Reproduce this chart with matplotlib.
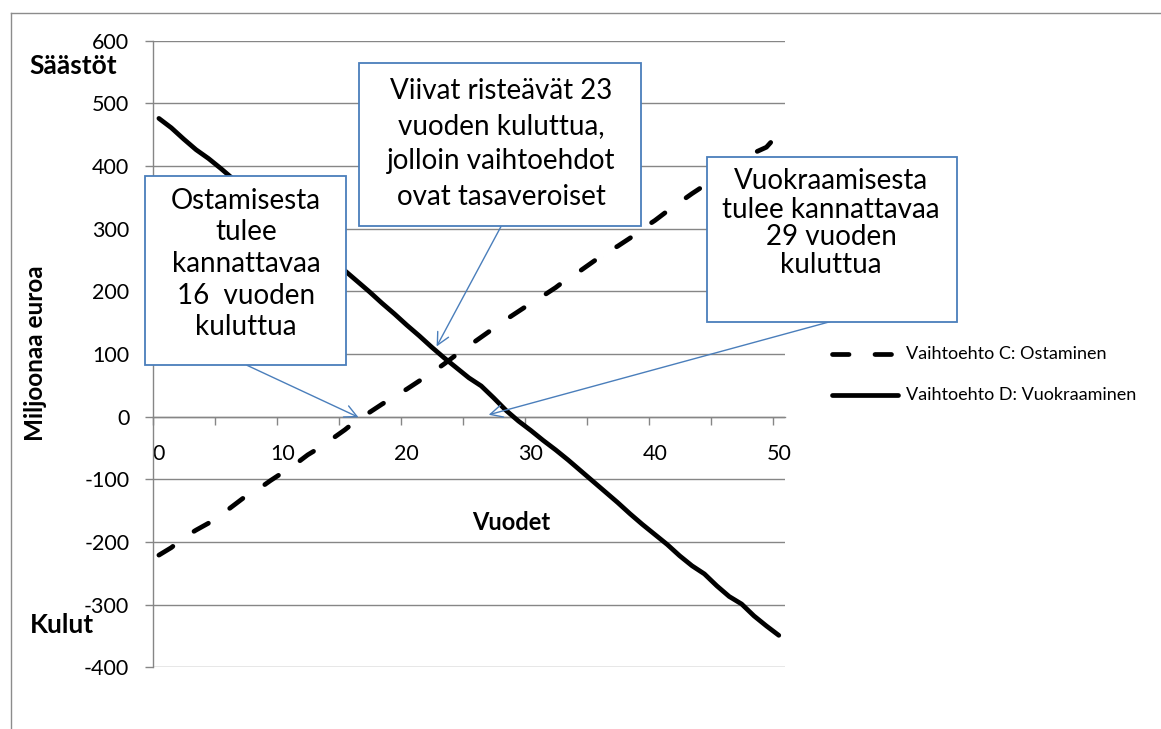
import numpy as np
import matplotlib
matplotlib.use("Agg")
import matplotlib.pyplot as plt
from matplotlib.patches import Rectangle
from matplotlib.lines import Line2D

plt.rcParams['font.family'] = ['Lato', 'DejaVu Sans']

# ---------------- data ----------------
years = list(range(0, 51))
ostaminen = [-221, -209, -193, -181, -170, -157, -142, -127, -116, -102,
             -89, -76, -61, -49, -35, -21, -5, 7, 20, 32,
             44, 57, 70, 84, 99, 113, 127, 141, 155, 168,
             181, 193, 206, 221, 233, 247, 261, 272, 285, 300,
             313, 328, 342, 356, 369, 382, 395, 409, 421, 430, 452]
vuokraaminen = [476, 461, 443, 426, 412, 396, 379, 363, 347, 331,
                315, 299, 283, 267, 251, 233, 216, 199, 181, 164,
                146, 129, 111, 94, 78, 62, 49, 30, 10, -7,
                -22, -38, -53, -69, -86, -103, -120, -137, -155, -172,
                -188, -204, -222, -238, -251, -270, -287, -299, -318, -334, -349]
series_labels = ["Vaihtoehto C: Ostaminen", "Vaihtoehto D: Vuokraaminen"]
y_ticks = list(range(-400, 601, 100))
x_tick_labels = [0, 10, 20, 30, 40, 50]
x_title = "Vuodet"
y_title = "Miljoonaa euroa"
top_label = "Säästöt"
bottom_label = "Kulut"
box_texts = [
    ["Ostamisesta", "tulee", "kannattavaa", "16  vuoden", "kuluttua"],
    ["Viivat risteävät 23", "vuoden kuluttua,", "jolloin vaihtoehdot", "ovat tasaveroiset"],
    ["Vuokraamisesta", "tulee kannattavaa", "29 vuoden", "kuluttua"],
]
arrow_tips = [(16.1, -1), (22.4, 112), (26.6, 3)]

# ---------------- figure ----------------
W, H = 1161, 729
fig = plt.figure(figsize=(W / 100, H / 100), dpi=100)
fig.patch.set_facecolor('white')

def fx(px):
    return px / W

def fy(py):
    return 1 - py / H

GRID = '#868686'
BLUE = '#4A7EBB'

ax_l, ax_r, ax_t, ax_b = 152.7, 785.0, 40.7, 667.3
ax = fig.add_axes([fx(ax_l), fy(ax_b), fx(ax_r - ax_l), (ax_b - ax_t) / H])
ax.set_xlim(-0.5, 50.5)
ax.set_ylim(-400, 600)

ax.set_yticks(y_ticks)
ax.set_yticklabels([str(v) for v in y_ticks])
ax.grid(axis='y', color=GRID, lw=1.0)
ax.set_axisbelow(True)
for s in ['top', 'right']:
    ax.spines[s].set_visible(False)
ax.spines['left'].set_color(GRID)
ax.spines['left'].set_linewidth(1.0)
ax.spines['bottom'].set_position(('data', 0))
ax.spines['bottom'].set_color(GRID)
ax.spines['bottom'].set_linewidth(1.0)

ax.tick_params(axis='y', direction='out', length=5.8, width=1.0, color=GRID,
               labelsize=15.5, pad=11, labelcolor='black')
ax.set_xticks(x_tick_labels)
ax.set_xticklabels([str(v) for v in x_tick_labels])
ax.set_xticks(np.arange(-0.5, 50, 5), minor=True)
ax.tick_params(axis='x', which='major', length=0, labelsize=15.5, pad=20)
ax.tick_params(axis='x', which='minor', direction='out', length=5.8, width=1.0, color=GRID)

lw = 3.4
ax.plot(years, ostaminen, color='black', lw=lw, dashes=(3.5, 5.5),
        dash_capstyle='round', label=series_labels[0], zorder=3)
ax.plot(years, vuokraaminen, color='black', lw=lw, solid_capstyle='round',
        solid_joinstyle='round', label=series_labels[1], zorder=3)

# axis titles
fig.text(fx(36), fy(353), y_title, rotation=90, ha='center', va='center',
         fontsize=17.5, fontweight='bold')
fig.text(fx(511), fy(522), x_title, ha='center', va='center',
         fontsize=17, fontweight='bold')
fig.text(fx(73), fy(66), top_label, ha='center', va='center',
         fontsize=19, fontweight='bold')
fig.text(fx(62), fy(625), bottom_label, ha='center', va='center',
         fontsize=19, fontweight='bold')

# outer chart border
fig.add_artist(Line2D([fx(10.7), fx(10.7)], [0, fy(12.7)], transform=fig.transFigure,
                      color='#8c8c8c', lw=1.0))
fig.add_artist(Line2D([fx(10.7), 1], [fy(12.7), fy(12.7)], transform=fig.transFigure,
                      color='#8c8c8c', lw=1.0))

# callout boxes
boxes = [
    dict(rect=(145, 176.5, 346.2, 365.3), cx=246, lines_y=[201, 232.5, 264.4, 295.6, 326.7]),
    dict(rect=(359, 63.2, 641.2, 225.9), cx=501, lines_y=[91.4, 126.3, 161.1, 197.2]),
    dict(rect=(707.3, 157.3, 956.7, 321.7), cx=831, lines_y=[180.7, 210, 237.3, 265]),
]
for b, texts in zip(boxes, box_texts):
    x0, y0, x1, y1 = b['rect']
    fig.add_artist(Rectangle((fx(x0), fy(y1)), fx(x1 - x0), (y1 - y0) / H,
                             transform=fig.transFigure, facecolor='white',
                             edgecolor=BLUE, lw=1.3, zorder=5))
    for t, yy in zip(texts, b['lines_y']):
        fig.text(fx(b['cx']), fy(yy), t, ha='center', va='center',
                 fontsize=20, zorder=6)

# arrows
arrow_starts = [(247, 365.3), (501, 226.5), (830, 321.7)]
for (sx, sy), tip in zip(arrow_starts, arrow_tips):
    ax.annotate('', xy=tip, xycoords='data', xytext=(fx(sx), fy(sy)),
                textcoords='figure fraction', annotation_clip=False,
                arrowprops=dict(arrowstyle='->', color=BLUE, lw=1.0,
                                shrinkA=0, shrinkB=0, mutation_scale=22))

# legend (drawn manually)
leg_rows = [354, 395]
fig.add_artist(Line2D([fx(832), fx(893)], [fy(leg_rows[0])] * 2, transform=fig.transFigure,
                      color='black', lw=lw, dashes=(3.5, 5.5), dash_capstyle='round'))
fig.add_artist(Line2D([fx(832), fx(898)], [fy(leg_rows[1])] * 2, transform=fig.transFigure,
                      color='black', lw=lw, solid_capstyle='round'))
for lab, yy in zip(series_labels, leg_rows):
    fig.text(fx(906), fy(yy), lab, ha='left', va='center', fontsize=13)

fig.savefig('out.png', dpi=100)
